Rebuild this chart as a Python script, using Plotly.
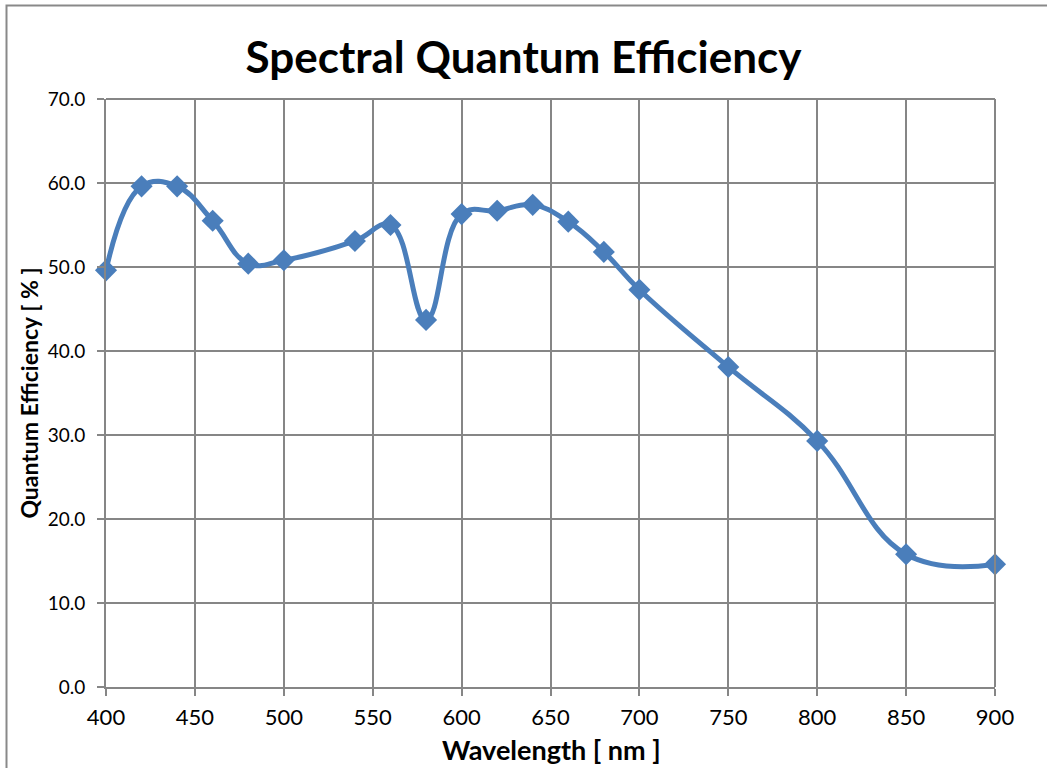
import plotly.graph_objects as go

wavelength = [400, 420, 440, 460, 480, 500, 540, 560, 580, 600, 620, 640, 660, 680, 700, 750, 800, 850, 900]
qe = [49.6, 59.6, 59.6, 55.5, 50.4, 50.8, 53.1, 55.0, 43.7, 56.3, 56.7, 57.4, 55.4, 51.8, 47.3, 38.1, 29.3, 15.8, 14.6]

x_ticks = [400, 450, 500, 550, 600, 650, 700, 750, 800, 850, 900]
y_ticks = [0, 10, 20, 30, 40, 50, 60, 70]

FONT = "Lato, 'Open Sans', sans-serif"
GRID = "#868686"

fig = go.Figure()
fig.add_trace(go.Scatter(
    x=wavelength, y=qe, mode="lines+markers",
    line=dict(color="#4A7EBB", width=5, shape="spline", smoothing=1.2),
    marker=dict(symbol="diamond", size=17, color="#4A7EBB"),
    showlegend=False, cliponaxis=False, hoverinfo="skip",
))

L, R, T, B = 106, 52, 99, 81
W, H = 1047, 768
pw, ph = W - L - R, H - T - B

fig.update_layout(
    width=W, height=H,
    margin=dict(l=L, r=R, t=T, b=B),
    paper_bgcolor="white", plot_bgcolor="white",
    title=dict(text="<b>Spectral Quantum Efficiency</b>", x=0.5, xanchor="center",
               y=1 - 58 / H, yanchor="middle",
               font=dict(family=FONT, size=44, color="black")),
    font=dict(family=FONT, color="black"),
    xaxis=dict(range=[400, 900], tickvals=x_ticks, ticks="outside", ticklen=7, tickcolor=GRID,
               tickwidth=2, showgrid=True, gridcolor=GRID, gridwidth=2, automargin=False,
               showline=True, linecolor=GRID, linewidth=2, mirror=False, zeroline=False,
               tickfont=dict(size=22, family=FONT), ticklabelstandoff=3),
    yaxis=dict(range=[0, 70], tickvals=y_ticks, tickformat=".1f", ticks="outside", ticklen=7,
               tickcolor=GRID, tickwidth=2, showgrid=True, gridcolor=GRID, gridwidth=2, automargin=False,
               showline=True, linecolor=GRID, linewidth=2, zeroline=False,
               tickfont=dict(size=19, family=FONT), ticklabelstandoff=8,
               title=dict(text="<b>Quantum Efficiency [ % ]</b>", font=dict(size=23, family=FONT), standoff=3)),
    annotations=[
        dict(text="<b>Wavelength [ nm ]</b>", xref="paper", yref="paper", x=(551 - L) / pw,
             y=-(749 - (H - B)) / ph, xanchor="center", yanchor="middle", showarrow=False,
             font=dict(size=27, family=FONT, color="black")),
    ],
    shapes=[
        dict(type="line", xref="paper", yref="paper", x0=1, x1=1, y0=0, y1=1,
             line=dict(color=GRID, width=2)),
        dict(type="line", xref="paper", yref="paper", x0=0, x1=1, y0=1, y1=1,
             line=dict(color=GRID, width=2)),
        dict(type="rect", xref="paper", yref="paper",
             x0=(6.5 - L) / pw, x1=(1060 - L) / pw,
             y0=(H - T - 800) / ph, y1=(ph + T - 5.5) / ph,
             line=dict(color="#898989", width=2), layer="below"),
    ],
)

fig.write_html("out.html", config={"displayModeBar": False},
               post_script="document.body.style.margin='0';document.body.style.overflow='hidden';")
